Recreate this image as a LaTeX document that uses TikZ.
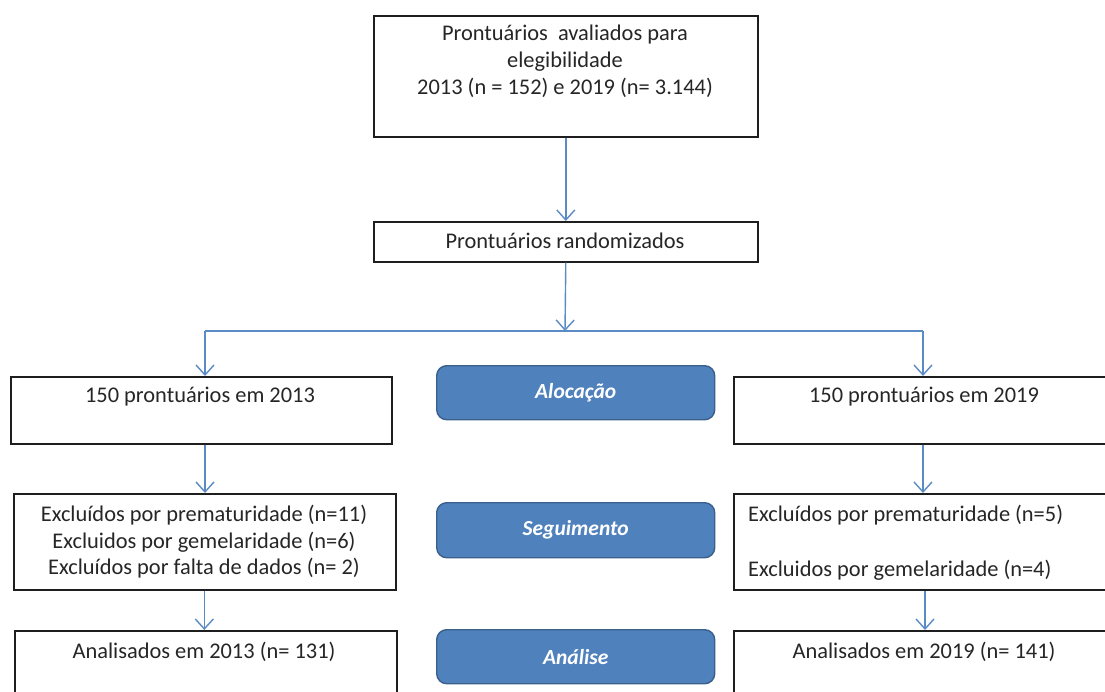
\documentclass[tikz,border=0pt]{standalone}
\usepackage{fontspec}
\setmainfont{Carlito}
\usetikzlibrary{arrows.meta,positioning}
\definecolor{boxline}{HTML}{1E1E1E}
\definecolor{conn}{HTML}{5B8BC5}
\definecolor{bluefill}{HTML}{4F81BD}
\definecolor{blueline}{HTML}{3A5F8B}
\tikzset{
  wbox/.style={draw=boxline,line width=1.6pt,fill=white,inner sep=0pt,anchor=north west},
  pbox/.style={draw=blueline,line width=1.4pt,fill=bluefill,rounded corners=10pt,inner sep=0pt,anchor=north west,
     text=white,font=\fontsize{21.5}{25}\selectfont\bfseries\itshape},
  txt/.style={inner sep=0pt,font=\fontsize{22.4}{26.5}\selectfont,text=black!85,align=center},
  ltxt/.style={inner sep=0pt,font=\fontsize{22.4}{26.5}\selectfont,text=black!85,anchor=west},
  conline/.style={draw=conn,line width=1.4pt},
  arr/.style={conline,-{Straight Barb[length=10pt,width=18pt,line width=1.4pt]}}
}
\begin{document}
\begin{tikzpicture}[x=1pt,y=-1pt]
\useasboundingbox (0,0) rectangle (1105,691);
\clip (0,0) rectangle (1105,691);
% white boxes
\node[wbox,minimum width=384pt,minimum height=121pt] (top) at (373,15) {};
\node[wbox,minimum width=384pt,minimum height=40pt] (rand) at (373,221) {};
\node[wbox,minimum width=381pt,minimum height=67pt] (l1) at (10,376) {};
\node[wbox,minimum width=382pt,minimum height=96pt] (l2) at (13,493) {};
\node[wbox,minimum width=382pt,minimum height=80pt] (l3) at (14,630) {};
\node[wbox,minimum width=380pt,minimum height=67pt] (r1) at (733,376) {};
\node[wbox,minimum width=380pt,minimum height=96pt] (r2) at (733,493) {};
\node[wbox,minimum width=380pt,minimum height=80pt] (r3) at (733,630) {};
% blue phase boxes
\node[pbox,minimum width=278pt,minimum height=54pt] (aloc) at (436,365) {Alocação};
\node[pbox,minimum width=278pt,minimum height=55pt] (seg) at (436,502) {Seguimento};
\node[pbox,minimum width=278pt,minimum height=54pt] (anal) at (436,629) {Análise};
% texts
\node[txt] (t1) at (565,35) {Prontuários\ \ avaliados para};
\node[txt] (t2) at (565,62) {elegibilidade};
\node[txt] (t3) at (565,88) {2013 (n = 152) e 2019 (n= 3.144)};
\node[txt] (trand) at (565,241) {Prontuários randomizados};
\node[txt] (tl1) at (200,397) {150 prontuários em 2013};
\node[txt] (tl2a) at (204,515) {Excluídos por prematuridade (n=11)};
\node[txt] (tl2b) at (204,542) {Excluidos por gemelaridade (n=6)};
\node[txt] (tl2c) at (204,568) {Excluídos por falta de dados (n= 2)};
\node[txt] (tl3) at (204,652) {Analisados em 2013 (n= 131)};
\node[txt] (tr1) at (924,397) {150 prontuários em 2019};
\node[ltxt] (tr2a) at (748,515) {Excluídos por prematuridade (n=5)};
\node[ltxt] (tr2b) at (748,570) {Excluidos por gemelaridade (n=4)};
\node[txt] (tr3) at (924,652) {Analisados em 2019 (n= 141)};
% connectors
\coordinate (split) at (565,331);
\coordinate (jl) at (205,331);
\coordinate (jr) at (923,331);
\draw[arr] (top.south) -- (rand.north);
\draw[arr] (rand.south) -- (split);
\draw[conline] (jl) -- (jr);
\draw[arr] (jl) -- (jl |- l1.north);
\draw[arr] (jr) -- (jr |- r1.north);
\draw[arr] (jl |- l1.south) -- (jl |- l2.north);
\draw[arr] ([xshift=-0.5pt]l2.south) -- ([xshift=-0.5pt]l2.south |- l3.north);
\draw[arr] (jr |- r1.south) -- (jr |- r2.north);
\draw[arr] ([xshift=2pt]jr |- r2.south) -- ([xshift=2pt]jr |- r3.north);
\end{tikzpicture}
\end{document}
